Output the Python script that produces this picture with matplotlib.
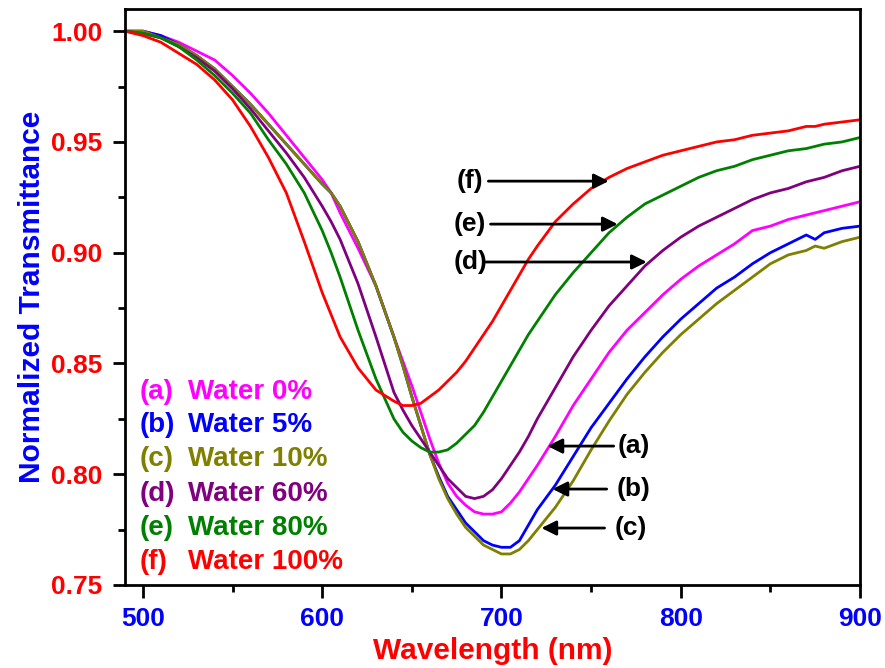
import numpy as np
import matplotlib
matplotlib.use("Agg")
from matplotlib import pyplot as plt
from matplotlib.ticker import MultipleLocator, FormatStrFormatter

plt.rcParams['font.family'] = ['Liberation Sans', 'DejaVu Sans']
plt.rcParams['font.weight'] = 'bold'

# wavelength grid (nm)
wavelength = [490, 500, 510, 520, 530, 540, 550, 560, 570, 580, 590, 600, 605, 610,
              620, 630, 640, 645, 650, 655, 660, 665, 670, 675, 680, 685, 690, 695,
              700, 705, 710, 715, 720, 730, 740, 750, 760, 770, 780, 790, 800, 810,
              820, 830, 840, 850, 860, 870, 875, 880, 890, 900]

# (a) water 0%
water_0 = [1.000, 1.000, 0.998, 0.995, 0.991, 0.987, 0.980, 0.972, 0.963, 0.953, 0.943, 0.933, 0.927, 0.918,
           0.902, 0.885, 0.862, 0.851, 0.840, 0.828, 0.816, 0.805, 0.796, 0.790, 0.786, 0.783, 0.782, 0.782,
           0.783, 0.787, 0.792, 0.798, 0.804, 0.817, 0.831, 0.843, 0.855, 0.865, 0.873, 0.881, 0.888, 0.894,
           0.899, 0.904, 0.910, 0.912, 0.915, 0.917, 0.918, 0.919, 0.921, 0.923]
# (b) water 5%
water_5 = [1.000, 1.000, 0.998, 0.994, 0.989, 0.983, 0.975, 0.967, 0.958, 0.949, 0.940, 0.931, 0.927, 0.921,
           0.905, 0.885, 0.862, 0.849, 0.835, 0.822, 0.809, 0.799, 0.790, 0.784, 0.778, 0.774, 0.770, 0.768,
           0.767, 0.767, 0.770, 0.777, 0.784, 0.795, 0.808, 0.821, 0.832, 0.843, 0.853, 0.862, 0.870, 0.877,
           0.884, 0.889, 0.895, 0.900, 0.904, 0.908, 0.906, 0.909, 0.911, 0.912]
# (c) water 10%
water_10 = [1.000, 1.000, 0.997, 0.994, 0.989, 0.983, 0.975, 0.967, 0.958, 0.949, 0.940, 0.931, 0.927, 0.921,
            0.905, 0.885, 0.862, 0.849, 0.835, 0.822, 0.809, 0.798, 0.789, 0.782, 0.776, 0.772, 0.768, 0.766,
            0.764, 0.764, 0.766, 0.770, 0.775, 0.785, 0.797, 0.811, 0.824, 0.836, 0.846, 0.855, 0.863, 0.870,
            0.877, 0.883, 0.889, 0.895, 0.899, 0.901, 0.903, 0.902, 0.905, 0.907]
# (d) water 60%
water_60 = [1.000, 0.999, 0.997, 0.993, 0.988, 0.982, 0.974, 0.965, 0.955, 0.945, 0.934, 0.921, 0.914, 0.906,
            0.886, 0.862, 0.837, 0.829, 0.822, 0.816, 0.810, 0.804, 0.798, 0.794, 0.790, 0.789, 0.790, 0.793,
            0.798, 0.804, 0.810, 0.817, 0.825, 0.839, 0.853, 0.865, 0.876, 0.885, 0.894, 0.901, 0.907, 0.912,
            0.916, 0.920, 0.924, 0.927, 0.929, 0.932, 0.933, 0.934, 0.937, 0.939]
# (e) water 80%
water_80 = [1.000, 0.999, 0.997, 0.993, 0.987, 0.980, 0.972, 0.963, 0.951, 0.940, 0.927, 0.910, 0.900, 0.889,
            0.865, 0.843, 0.825, 0.819, 0.815, 0.812, 0.810, 0.810, 0.811, 0.814, 0.818, 0.822, 0.828, 0.835,
            0.842, 0.849, 0.856, 0.863, 0.869, 0.881, 0.891, 0.900, 0.909, 0.916, 0.922, 0.926, 0.930, 0.934,
            0.937, 0.939, 0.942, 0.944, 0.946, 0.947, 0.948, 0.949, 0.950, 0.952]
# (f) water 100%
water_100 = [1.000, 0.998, 0.995, 0.990, 0.985, 0.978, 0.969, 0.957, 0.943, 0.927, 0.905, 0.882, 0.872, 0.862,
             0.848, 0.838, 0.833, 0.831, 0.831, 0.832, 0.835, 0.838, 0.842, 0.846, 0.851, 0.857, 0.863, 0.869,
             0.876, 0.883, 0.890, 0.897, 0.903, 0.914, 0.922, 0.929, 0.934, 0.938, 0.941, 0.944, 0.946, 0.948,
             0.950, 0.951, 0.953, 0.954, 0.955, 0.957, 0.957, 0.958, 0.959, 0.960]

series = [water_0, water_5, water_10, water_60, water_80, water_100]
tags = ['(a)', '(b)', '(c)', '(d)', '(e)', '(f)']
names = ['Water 0%', 'Water 5%', 'Water 10%', 'Water 60%', 'Water 80%', 'Water 100%']
colors = ['#FF00FF', '#0000FF', '#808000', '#800080', '#008000', '#FF0000']

fig = plt.figure(figsize=(8.85, 6.68), dpi=100)
ax = fig.add_axes([0.1412, 0.1243, 0.8306, 0.8622])

for y, c in zip(series, colors):
    ax.plot(wavelength, y, color=c, lw=2)

ax.set_xlim(490, 900)
ax.set_ylim(0.75, 1.01)

ax.xaxis.set_major_locator(MultipleLocator(100))
ax.xaxis.set_minor_locator(MultipleLocator(50))
ax.yaxis.set_major_locator(MultipleLocator(0.05))
ax.yaxis.set_minor_locator(MultipleLocator(0.025))
ax.yaxis.set_major_formatter(FormatStrFormatter('%.2f'))

for s in ax.spines.values():
    s.set_linewidth(2)
ax.tick_params(which='major', direction='out', length=9, width=2, pad=7, labelsize=19)
ax.tick_params(which='minor', direction='out', length=5, width=2)
ax.tick_params(axis='x', labelcolor='#0000FF')
ax.tick_params(axis='y', labelcolor='#FF0000')
for lab in ax.get_xticklabels() + ax.get_yticklabels():
    lab.set_fontweight('bold')

ax.set_xlabel('Wavelength (nm)', color='#FF0000', fontsize=21.5, fontweight='bold', labelpad=4)
ax.set_ylabel('Normalized Transmittance', color='#0000FF', fontsize=21.5, fontweight='bold', labelpad=4)

# colored legend text in lower left
leg_y = [0.335, 0.278, 0.219, 0.158, 0.099, 0.040]
for t, n, c, yy in zip(tags, names, colors, leg_y):
    ax.text(0.020, yy, t, color=c, fontsize=20, fontweight='bold', va='center', transform=ax.transAxes)
    ax.text(0.086, yy, n, color=c, fontsize=20, fontweight='bold', va='center', transform=ax.transAxes)

# arrows pointing at curves: (tag, tail x, tip x, y, text x)
arrows = [('(a)', 762.6, 725.7, 0.8127, 774.0),
          ('(b)', 758.7, 728.5, 0.7933, 773.5),
          ('(c)', 757.5, 722.3, 0.7757, 772.0),
          ('(f)', 692.7, 759.8, 0.9323, 682.5),
          ('(e)', 693.9, 764.8, 0.9129, 682.5),
          ('(d)', 691.0, 781.0, 0.8958, 682.5)]
for t, x0, x1, yy, xt in arrows:
    ax.annotate('', xy=(x1, yy), xytext=(x0, yy),
                arrowprops=dict(arrowstyle='-|>', color='black', lw=2, mutation_scale=22,
                                shrinkA=0, shrinkB=0))
    ax.text(xt, yy, t, color='black', fontsize=19, fontweight='bold', ha='center', va='center')

fig.savefig('out.png', dpi=100)
